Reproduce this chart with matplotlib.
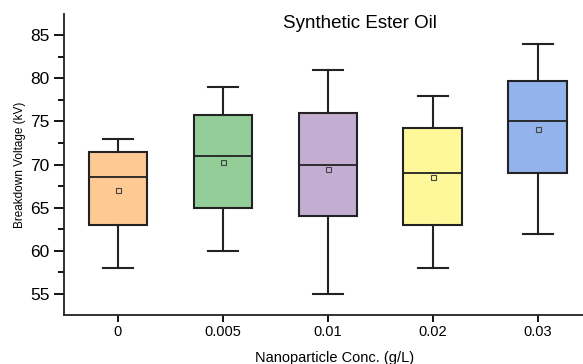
import matplotlib
matplotlib.use('Agg')
import matplotlib.pyplot as plt
from matplotlib.ticker import MultipleLocator

plt.rcParams['font.family'] = ['Liberation Sans', 'DejaVu Sans']

# data
conc = ['0', '0.005', '0.01', '0.02', '0.03']
whisk_lo = [58, 60, 55, 58, 62]
q1 = [63, 65, 64, 63, 69]
median = [68.5, 71, 70, 69, 75]
q3 = [71.5, 75.7, 76, 74.2, 79.7]
whisk_hi = [73, 79, 81, 78, 84]
mean = [67.1, 70.3, 69.5, 68.6, 74.1]
colors = ['#FFC994', '#93CE98', '#C3AED2', '#FFF89A', '#92B3EC']

stats = []
for i in range(len(conc)):
    stats.append(dict(whislo=whisk_lo[i], q1=q1[i], med=median[i], q3=q3[i],
                      whishi=whisk_hi[i], mean=mean[i], fliers=[], label=conc[i]))

fig = plt.figure(figsize=(5.83, 3.64), dpi=100)
ax = fig.add_axes([0.1098, 0.1346, 0.8902, 0.8269])

edge = '#222222'
bp = ax.bxp(stats, positions=range(len(conc)), widths=0.56, patch_artist=True,
            showmeans=True, showfliers=False, capwidths=0.28,
            boxprops=dict(edgecolor=edge, linewidth=1.5),
            medianprops=dict(color=edge, linewidth=1.3),
            whiskerprops=dict(color=edge, linewidth=1.5),
            capprops=dict(color=edge, linewidth=1.5),
            meanprops=dict(marker='s', markersize=3.6, markerfacecolor='none',
                           markeredgecolor='#444444', markeredgewidth=0.8))
for patch, c in zip(bp['boxes'], colors):
    patch.set_facecolor(c)

ax.set_xlim(-0.514, 4.43)
ax.set_ylim(52.55, 87.45)
ax.yaxis.set_major_locator(MultipleLocator(5))
ax.yaxis.set_minor_locator(MultipleLocator(2.5))
ax.tick_params(axis='y', which='major', length=7, width=1.3, labelsize=12.5, direction='out')
ax.tick_params(axis='y', which='minor', length=4, width=1.3, direction='out')
ax.tick_params(axis='x', length=5, width=1.3, labelsize=10.5, direction='out', pad=2)

for s in ['top', 'right']:
    ax.spines[s].set_visible(False)
for s in ['left', 'bottom']:
    ax.spines[s].set_linewidth(1.3)
    ax.spines[s].set_color('#222222')

ax.set_ylabel('Breakdown Voltage (kV)', fontsize=8.5, labelpad=3)
ax.set_xlabel('Nanoparticle Conc. (g/L)', fontsize=10.5)
ax.xaxis.set_label_coords(0.521, -0.12)
ax.text(0.570, 0.970, 'Synthetic Ester Oil', transform=ax.transAxes,
        ha='center', va='center', fontsize=13.5)

fig.savefig('out.png', dpi=100)
